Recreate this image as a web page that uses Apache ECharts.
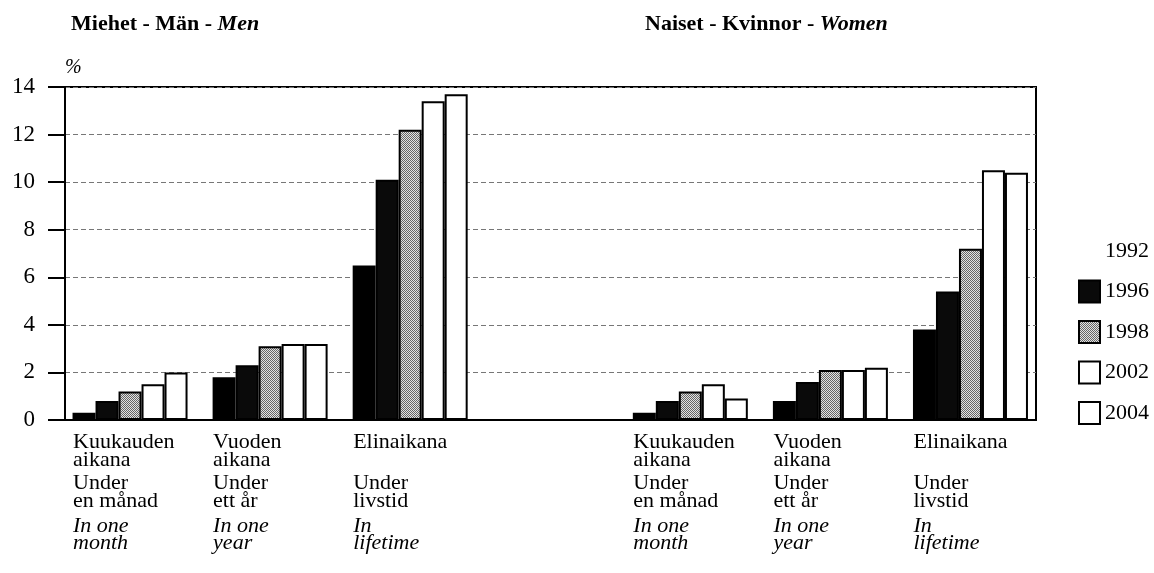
<!DOCTYPE html>
<html>
<head>
    <meta charset="utf-8">
    <title>Miehet - Naiset</title>
    <script src="https://cdn.jsdelivr.net/npm/echarts@6/dist/echarts.min.js"></script>
    <style>
        html, body { margin: 0; padding: 0; background: #fff; }
        #chart { width: 1154px; height: 573px; }
    </style>
</head>
<body>
<div id="chart"></div>
<script type="text/javascript">
    // 分组：男 3 组，空位，女 3 组
    var groups = ['m1', 'm2', 'm3', '', 'w1', 'w2', 'w3'];
    var labelFi = ['Kuukauden\naikana', 'Vuoden\naikana', 'Elinaikana\n ', '', 'Kuukauden\naikana', 'Vuoden\naikana', 'Elinaikana\n '];
    var labelSv = ['Under\nen månad', 'Under\nett år', 'Under\nlivstid', '', 'Under\nen månad', 'Under\nett år', 'Under\nlivstid'];
    var labelEn = ['In one\nmonth', 'In one\nyear', 'In\nlifetime', '', 'In one\nmonth', 'In one\nyear', 'In\nlifetime'];

    var years = ['1992', '1996', '1998', '2002', '2004'];
    var v1992 = [0.3, 1.8, 6.5, '-', 0.3, 0.8, 3.8];
    var v1996 = [0.8, 2.3, 10.1, '-', 0.8, 1.6, 5.4];
    var v1998 = [1.2, 3.1, 12.2, '-', 1.2, 2.1, 7.2];
    var v2002 = [1.5, 3.2, 13.4, '-', 1.5, 2.1, 10.5];
    var v2004 = [2.0, 3.2, 13.7, '-', 0.9, 2.2, 10.4];
    var yTicks = [0, 2, 4, 6, 8, 10, 12, 14];

    var font = 'Liberation Serif';

    // 灰色点阵填充
    var dots = document.createElement('canvas');
    dots.width = 2; dots.height = 2;
    var ctx = dots.getContext('2d');
    ctx.fillStyle = '#e2e2e2'; ctx.fillRect(0, 0, 2, 2);
    ctx.fillStyle = '#666'; ctx.fillRect(0, 0, 1, 1); ctx.fillRect(1, 1, 1, 1);

    var fills = ['#000', '#0a0a0a', {image: dots, repeat: 'repeat'}, '#fff', '#fff'];
    var allValues = [v1992, v1996, v1998, v2002, v2004];

    var labels = groups.map(function (g, i) {
        if (!g) return '';
        var fi = labelFi[i].split('\n').map(function (s) { return '{a|' + s + '}'; }).join('\n');
        var sv = labelSv[i].split('\n').map(function (s) { return '{a|' + s + '}'; }).join('\n');
        var en = labelEn[i].split('\n').map(function (s) { return '{i|' + s + '}'; }).join('\n');
        return fi + '\n{s| }\n' + sv + '\n{t| }\n' + en;
    });

    var myChart = echarts.init(document.getElementById('chart'));

    myChart.setOption({
        animation: false,
        textStyle: {fontFamily: font, color: '#000'},
        title: [{
            text: '{b|Miehet - Män - }{i|Men}',
            left: 66, top: 8,
            textStyle: {rich: {
                b: {fontFamily: font, fontSize: 22, fontWeight: 'bold', color: '#000'},
                i: {fontFamily: font, fontSize: 22, fontStyle: 'italic', color: '#000'}
            }}
        }, {
            text: '{b|Naiset - Kvinnor - }{i|Women}',
            left: 640, top: 8,
            textStyle: {rich: {
                b: {fontFamily: font, fontSize: 22, fontWeight: 'bold', color: '#000'},
                i: {fontFamily: font, fontSize: 22, fontStyle: 'italic', color: '#000'}
            }}
        }],
        legend: {
            orient: 'vertical',
            left: 1078, top: 239, padding: 0,
            itemWidth: 21, itemHeight: 22, itemGap: 16.5,
            icon: 'rect',
            textStyle: {fontFamily: font, fontSize: 22, color: '#000', lineHeight: 22},
            data: [{name: '1992', itemStyle: {opacity: 0}}, '1996', '1998', '2002', '2004']
        },
        grid: [
            // 边框和 y 轴
            {left: 65, right: 118, top: 87, bottom: 153, show: true, borderColor: '#000', borderWidth: 2},
            // 柱子
            {left: 60, right: 113.5, top: 87, bottom: 153},
            // 类目文字（左移，左对齐）
            {left: 3, right: 170.5, top: 87, bottom: 153}
        ],
        xAxis: [{
            gridIndex: 0, type: 'value', min: 0, max: 1,
            axisLine: {show: true, lineStyle: {color: '#000', width: 2}},
            axisTick: {show: false}, axisLabel: {show: false}, splitLine: {show: false}
        }, {
            gridIndex: 1, type: 'category', data: groups,
            axisLine: {show: false}, axisTick: {show: false}, axisLabel: {show: false}
        }, {
            gridIndex: 2, type: 'category', data: labels,
            axisLine: {show: false}, axisTick: {show: false},
            axisLabel: {
                interval: 0, align: 'left', margin: 13,
                rich: {
                    a: {fontFamily: font, fontSize: 22, lineHeight: 18, color: '#000'},
                    i: {fontFamily: font, fontSize: 22, fontStyle: 'italic', lineHeight: 17.5, color: '#000'},
                    s: {fontSize: 4, lineHeight: 5},
                    t: {fontSize: 4, lineHeight: 7}
                }
            }
        }],
        yAxis: [{
            gridIndex: 0, type: 'value', min: 0, max: 14, interval: 2,
            name: '%', nameLocation: 'end', nameGap: 19,
            nameTextStyle: {fontFamily: font, fontSize: 20, fontStyle: 'italic', align: 'left', verticalAlign: 'middle', color: '#000'},
            axisLine: {show: true, lineStyle: {color: '#000', width: 2}},
            axisTick: {show: true, length: 17, lineStyle: {color: '#000', width: 2}},
            axisLabel: {margin: 30, fontFamily: font, fontSize: 23, color: '#000',
                formatter: function (v) { return yTicks.indexOf(v) >= 0 ? String(v) : ''; }},
            splitLine: {show: true, lineStyle: {color: '#777', width: 1, type: [5, 3]}}
        }, {
            gridIndex: 1, type: 'value', min: 0, max: 14, show: false
        }, {
            gridIndex: 2, type: 'value', min: 0, max: 14, show: false
        }],
        series: years.map(function (y, k) {
            return {
                name: y,
                type: 'bar',
                xAxisIndex: 1, yAxisIndex: 1,
                barWidth: 23, barGap: '0%',
                itemStyle: {color: fills[k], borderColor: '#000', borderWidth: 2},
                data: allValues[k]
            };
        })
    });
</script>
</body>
</html>
